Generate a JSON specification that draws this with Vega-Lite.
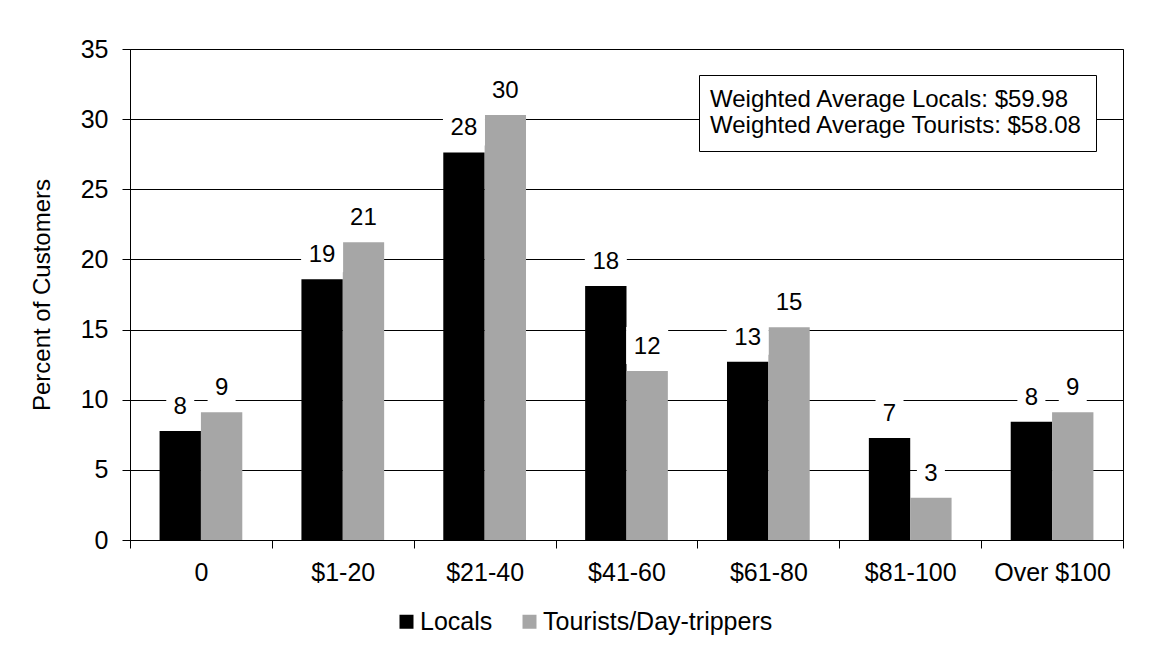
{
  "$schema": "https://vega.github.io/schema/vega-lite/v6.json",
  "width": 993,
  "height": 491,
  "autosize": {"type": "none"},
  "padding": {"left": 130, "top": 49, "right": 37, "bottom": 111},
  "background": "white",
  "config": {
    "font": "Liberation Sans",
    "view": {"stroke": "black", "strokeWidth": 1},
    "axis": {"labelColor": "black", "titleColor": "black", "domainColor": "black", "tickColor": "black", "labelFontSize": 25, "titleFontSize": 24, "titleFontWeight": "normal", "tickSize": 8}
  },
  "datasets": {
    "bars": [
      {"category": "0", "series": "Locals", "value": 7.77},
      {"category": "0", "series": "Tourists/Day-trippers", "value": 9.1},
      {"category": "$1-20", "series": "Locals", "value": 18.58},
      {"category": "$1-20", "series": "Tourists/Day-trippers", "value": 21.22},
      {"category": "$21-40", "series": "Locals", "value": 27.63},
      {"category": "$21-40", "series": "Tourists/Day-trippers", "value": 30.29},
      {"category": "$41-60", "series": "Locals", "value": 18.1},
      {"category": "$41-60", "series": "Tourists/Day-trippers", "value": 12.05},
      {"category": "$61-80", "series": "Locals", "value": 12.71},
      {"category": "$61-80", "series": "Tourists/Day-trippers", "value": 15.16},
      {"category": "$81-100", "series": "Locals", "value": 7.27},
      {"category": "$81-100", "series": "Tourists/Day-trippers", "value": 3.01},
      {"category": "Over $100", "series": "Locals", "value": 8.43},
      {"category": "Over $100", "series": "Tourists/Day-trippers", "value": 9.1}
    ],
    "notes": [
      {"note": "Weighted Average Locals: $59.98"},
      {"note": "Weighted Average Tourists: $58.08"}
    ]
  },
  "layer": [
    {
      "data": {"name": "bars"},
      "encoding": {
        "x": {
          "field": "category", "type": "nominal", "sort": null,
          "scale": {"paddingInner": 0, "paddingOuter": 0},
          "axis": {"title": null, "labelAngle": 0, "tickBand": "extent", "labelPadding": 12, "grid": false}
        },
        "xOffset": {"field": "series", "type": "nominal", "sort": ["Locals", "Tourists/Day-trippers"], "scale": {"paddingInner": 0, "paddingOuter": 0.715}},
        "y": {
          "field": "value", "type": "quantitative",
          "scale": {"domain": [0, 35], "nice": false},
          "axis": {"title": "Percent of Customers", "values": [0, 5, 10, 15, 20, 25, 30, 35], "grid": true, "gridColor": "black", "gridWidth": 1, "labelPadding": 14, "titlePadding": 26}
        }
      },
      "layer": [
        {
          "mark": {"type": "bar"},
          "encoding": {
            "color": {
              "field": "series", "type": "nominal",
              "scale": {"domain": ["Locals", "Tourists/Day-trippers"], "range": ["#000000", "#a6a6a6"]},
              "legend": {"title": null, "orient": "none", "direction": "horizontal", "legendX": 264, "legendY": 560, "padding": 0, "symbolType": "square", "symbolSize": 196, "symbolStrokeWidth": 0, "labelFontSize": 25, "labelColor": "black", "labelOffset": 1, "columnPadding": 24, "labelLimit": 1000}
            }
          }
        },
        {
          "mark": {"type": "tick", "color": "white", "opacity": 1, "thickness": 37, "yOffset": -25.5, "orient": "horizontal"},
          "encoding": {
            "size": {"condition": {"test": "datum.value >= 9.5", "value": 42}, "value": 28}
          }
        },
        {
          "mark": {"type": "text", "dy": -17, "fontSize": 24, "color": "black", "baseline": "alphabetic", "align": "center"},
          "encoding": {
            "text": {"field": "value", "type": "quantitative", "format": ".0f"}
          }
        }
      ]
    },
    {
      "data": {"name": "notes"},
      "mark": {"type": "point", "opacity": 0},
      "encoding": {
        "shape": {
          "field": "note", "type": "nominal", "sort": null,
          "legend": {"title": null, "orient": "none", "legendX": 569, "legendY": 26, "padding": 13, "strokeColor": "black", "fillColor": "white", "symbolSize": 0, "symbolOpacity": 0, "labelOffset": -26, "labelFontSize": 24, "labelColor": "black", "labelLimit": 1000, "rowPadding": 2}
        }
      }
    }
  ]
}
